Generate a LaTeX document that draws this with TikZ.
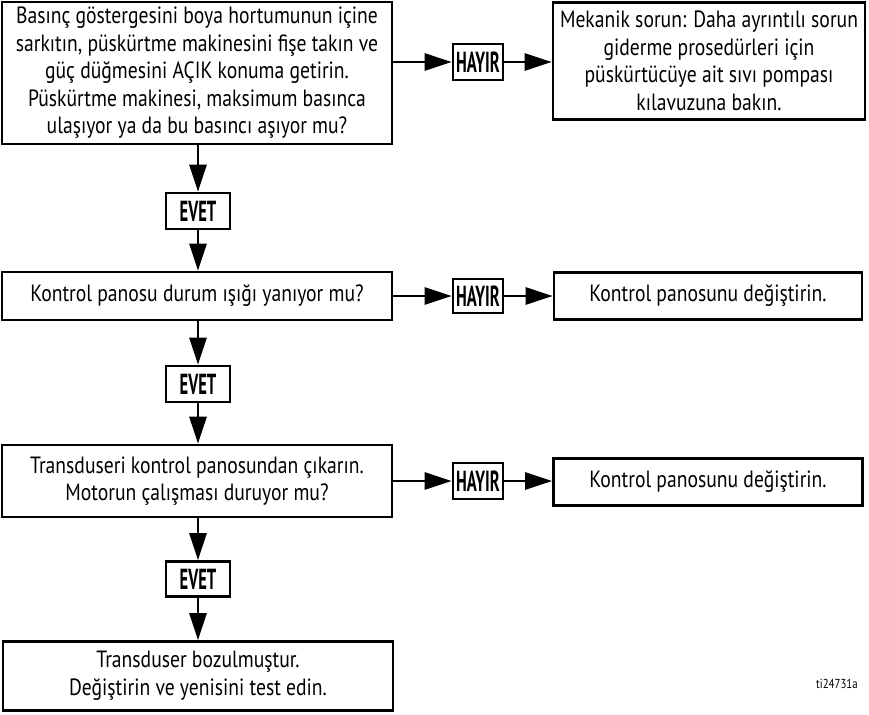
\documentclass[tikz,border=0pt]{standalone}
\usepackage{fontspec}
\setmainfont[FakeStretch=0.835]{PT Sans}
\newfontfamily\tagfont[FakeStretch=0.57]{PT Sans Bold}
\usepackage{tikz}
\usetikzlibrary{arrows.meta, positioning}

\begin{document}
\begin{tikzpicture}[x=1pt, y=-1pt, font=\fontsize{23.5}{27.5}\selectfont,
    box/.style={draw, line width=2.6pt, align=center, inner sep=0pt},
    tag/.style={draw, line width=2.6pt, inner sep=0pt,
                font=\fontsize{29}{29}\selectfont\tagfont},
    arr/.style={line width=2.6pt, -{Triangle[length=27pt, width=17pt]}}]
    \useasboundingbox (0,0) rectangle (869,714);

    % row 1
    \node[box, minimum width=390pt, minimum height=142pt] (q1) at (197,73)
      {Basınç göstergesini boya hortumunun içine\\
       sarkıtın, püskürtme makinesini fişe takın ve\\
       güç düğmesini AÇIK konuma getirin.\\
       Püskürtme makinesi, maksimum basınca\\
       ulaşıyor ya da bu basıncı aşıyor mu?};
    \node[tag, minimum width=50pt, minimum height=36pt] (n1) at (478,62) {HAYIR};
    \node[box, minimum width=312pt, minimum height=117pt] (r1) at (709,61)
      {Mekanik sorun: Daha ayrıntılı sorun\\
       giderme prosedürleri için\\
       püskürtücüye ait sıvı pompası\\
       kılavuzuna bakın.};
    \draw[arr] (n1.west -| q1.east) -- (n1.west);
    \draw[arr] (n1.east) -- (n1.east -| r1.west);

    \node[tag, minimum width=64pt, minimum height=36pt] (y1) at (198,211) {EVET};
    \draw[arr] (y1.north |- q1.south) -- (y1.north);

    % row 2
    \node[box, minimum width=390pt, minimum height=48pt] (q2) at (197,296)
      {Kontrol panosu durum ışığı yanıyor mu?};
    \node[tag, minimum width=50pt, minimum height=34pt] (n2) at (478,296) {HAYIR};
    \node[box, minimum width=308pt, minimum height=47pt] (r2) at (708,296)
      {Kontrol panosunu değiştirin.};
    \draw[arr] (y1.south) -- (y1.south |- q2.north);
    \draw[arr] (n2.west -| q2.east) -- (n2.west);
    \draw[arr] (n2.east) -- (n2.east -| r2.west);

    \node[tag, minimum width=64pt, minimum height=36pt] (y2) at (198,384) {EVET};
    \draw[arr] (y2.north |- q2.south) -- (y2.north);

    % row 3
    \node[box, minimum width=390pt, minimum height=72pt] (q3) at (197,481)
      {Transduseri kontrol panosundan çıkarın.\\
       Motorun çalışması duruyor mu?};
    \node[tag, minimum width=50pt, minimum height=36pt] (n3) at (478,481) {HAYIR};
    \node[box, minimum width=309pt, minimum height=47pt] (r3) at (708,482)
      {Kontrol panosunu değiştirin.};
    \draw[arr] (y2.south) -- (y2.south |- q3.north);
    \draw[arr] (n3.west -| q3.east) -- (n3.west);
    \draw[arr] (n3.east) -- (n3.east -| r3.west);

    \node[tag, minimum width=64pt, minimum height=35pt] (y3) at (198,579) {EVET};
    \draw[arr] (y3.north |- q3.south) -- (y3.north);

    % last step
    \node[box, minimum width=390pt, minimum height=69pt] (q4) at (198,676)
      {Transduser bozulmuştur.\\
       Değiştirin ve yenisini test edin.};
    \draw[arr] (y3.south) -- (y3.south |- q4.north);

    \node[font=\fontsize{13}{13}\selectfont] (ref) at (837,684) {ti24731a};
\end{tikzpicture}
\end{document}
